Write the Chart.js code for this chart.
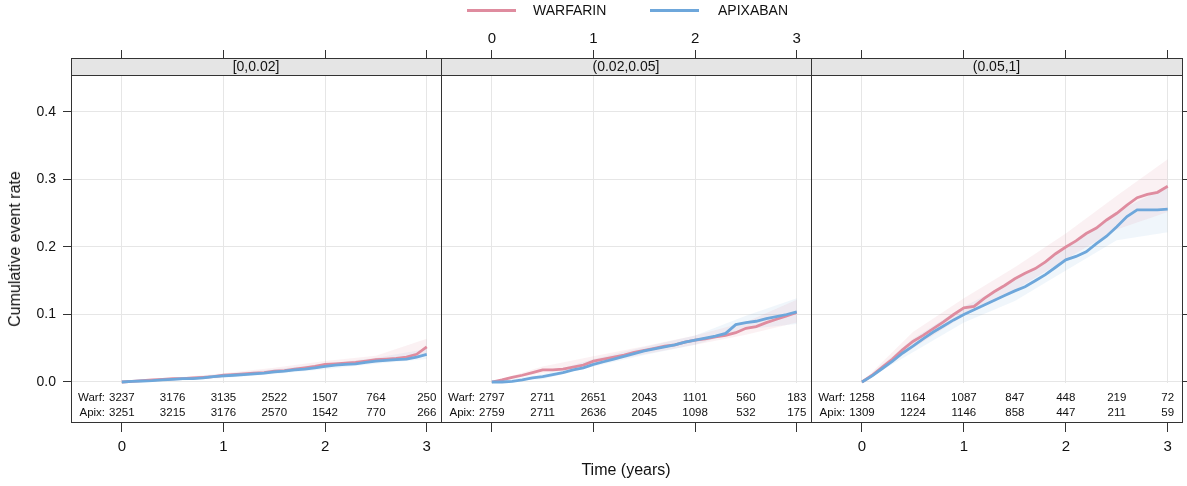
<!DOCTYPE html>
<html>
<head>
<meta charset="utf-8">
<script src="https://cdn.jsdelivr.net/npm/chart.js@4.4.1/dist/chart.umd.min.js"></script>
<style>
body{margin:0;background:#fff;font-family:"Liberation Sans",Arial,sans-serif;}
#wrap{position:relative;width:1187px;height:486px;overflow:hidden;}
canvas{position:absolute;left:0;top:0;}
.key{position:absolute;top:9px;width:49px;height:3px;}
.lab{position:absolute;top:2px;font-size:14px;line-height:16px;color:#111;}
#ytitle{position:absolute;left:15px;top:249px;transform:translate(-50%,-50%) rotate(-90deg);font-size:16px;white-space:nowrap;color:#111;}
#xtitle{position:absolute;left:626px;top:470px;transform:translate(-50%,-50%);font-size:16px;white-space:nowrap;color:#111;}
</style>
</head>
<body>
<div id="wrap">
<canvas id="p1" width="1187" height="486"></canvas>
<canvas id="p2" width="1187" height="486"></canvas>
<canvas id="p3" width="1187" height="486"></canvas>
<div class="key" style="left:467px;background:#DF8C9F"></div>
<div class="lab" style="left:533px">WARFARIN</div>
<div class="key" style="left:650px;background:#6EA7DB"></div>
<div class="lab" style="left:718px">APIXABAN</div>
<div id="ytitle">Cumulative event rate</div>
<div id="xtitle">Time (years)</div>
</div>
<script>
// data
const times=[0,0.1,0.2,0.3,0.4,0.5,0.6,0.7,0.8,0.9,1.0,1.1,1.2,1.3,1.4,1.5,1.6,1.7,1.8,1.9,2.0,2.1,2.2,2.3,2.4,2.5,2.6,2.7,2.8,2.9,3.0];

const warf1=[0,.001,.002,.003,.004,.005,.005,.006,.007,.008,.010,.011,.012,.013,.014,.016,.017,.019,.021,.023,.026,.027,.028,.029,.031,.033,.034,.035,.037,.041,.052];
const apix1=[0,.001,.0015,.002,.003,.004,.005,.005,.006,.008,.009,.010,.011,.012,.013,.015,.016,.018,.019,.021,.023,.025,.026,.027,.029,.031,.032,.033,.034,.037,.041];

const warf2=[0,.003,.007,.010,.014,.018,.018,.019,.022,.025,.031,.034,.037,.040,.044,.047,.050,.053,.055,.059,.062,.064,.067,.069,.073,.0795,.082,.088,.093,.098,.103];
const apix2=[0,0,.001,.003,.006,.008,.011,.014,.018,.021,.026,.030,.034,.038,.042,.046,.049,.052,.055,.059,.062,.065,.068,.072,.085,.088,.090,.094,.097,.100,.104];

const warf3=[0,.010,.022,.034,.048,.060,.069,.079,.089,.100,.110,.112,.124,.134,.143,.153,.161,.168,.178,.190,.200,.209,.220,.228,.240,.250,.262,.273,.278,.281,.290];
const apix3=[0,.009,.020,.031,.043,.053,.064,.074,.083,.092,.100,.107,.114,.121,.128,.135,.141,.150,.159,.170,.181,.186,.193,.205,.216,.230,.245,.255,.255,.255,.256];

// confidence bands
const bandTimes=[0,0.5,1,1.5,2,2.5,3];
const warf1Lo=[0,.002,.007,.013,.022,.029,.042];
const warf1Hi=[0,.006,.013,.021,.031,.039,.064];
const apix1Lo=[0,.0015,.006,.012,.019,.027,.034];
const apix1Hi=[0,.0045,.012,.019,.027,.036,.049];
const warf2Lo=[0,.013,.027,.041,.055,.070,.088];
const warf2Hi=[0,.023,.038,.053,.069,.089,.122];
const apix2Lo=[0,.004,.023,.040,.055,.078,.086];
const apix2Hi=[0,.012,.034,.052,.069,.098,.124];
const warf3Lo=[0,.050,.098,.136,.182,.226,.252];
const warf3Hi=[0,.074,.124,.170,.220,.276,.330];
const apix3Lo=[0,.044,.088,.120,.165,.210,.222];
const apix3Hi=[0,.064,.112,.150,.197,.252,.290];

// numbers at risk
const riskTimes=[0,0.5,1,1.5,2,2.5,3];
const riskWarf1=[3237,3176,3135,2522,1507,764,250];
const riskApix1=[3251,3215,3176,2570,1542,770,266];
const riskWarf2=[2797,2711,2651,2043,1101,560,183];
const riskApix2=[2759,2711,2636,2045,1098,532,175];
const riskWarf3=[1258,1164,1087,847,448,219,72];
const riskApix3=[1309,1224,1146,858,447,211,59];

const strips=["[0,0.02]","(0.02,0.05]","(0.05,1]"];
const xTicks=[0,1,2,3];
const yTicks=[0,0.1,0.2,0.3,0.4];

const PINK='#DF8C9F', BLUE='#6EA7DB';
const FONT='"Liberation Sans", Arial, sans-serif';
const panelLeft=[71,441,811], panelRight=[441,811,1182];

const pts=(xs,ys)=>xs.map((x,i)=>({x:x,y:ys[i]}));
const setTicks=list=>s=>{s.ticks=list.map(v=>({value:v}));};

const panelDeco={
  id:'panelDeco',
  beforeDatasetsDraw(chart){
    const a=chart.chartArea, y0=Math.round(chart.scales.y.getPixelForValue(0));
    const ctx=chart.ctx;
    ctx.save();
    ctx.fillStyle='#fff';
    ctx.fillRect(a.left+1,y0+1,a.right-a.left-1,a.bottom-y0-1);
    ctx.restore();
  },
  afterDraw(chart,args,o){
    const a=chart.chartArea, ctx=chart.ctx, xs=chart.scales.x;
    const L=Math.round(a.left), R=Math.round(a.right), T=Math.round(a.top), B=Math.round(a.bottom);
    ctx.save();
    // strip
    ctx.fillStyle='#e5e5e5';
    ctx.fillRect(L,T,R-L,17);
    ctx.strokeStyle='#333';ctx.lineWidth=1;
    ctx.beginPath();ctx.moveTo(L,T+17.5);ctx.lineTo(R,T+17.5);ctx.stroke();
    ctx.strokeRect(L+0.5,T+0.5,R-L,B-T);
    ctx.fillStyle='#111';ctx.font='14px '+FONT;ctx.textAlign='center';ctx.textBaseline='middle';
    ctx.fillText(o.strip,(L+R)/2,T+9);
    // numbers at risk
    ctx.font='11.5px '+FONT;
    const rows=[[o.warf,'Warf:',B-24],[o.apix,'Apix:',B-9.5]];
    rows.forEach(([vals,name,ry])=>{
      ctx.textAlign='center';
      riskTimes.forEach((t,i)=>ctx.fillText(String(vals[i]),xs.getPixelForValue(t),ry));
      ctx.textAlign='right';
      const w=ctx.measureText(String(vals[0])).width;
      ctx.fillText(name,xs.getPixelForValue(riskTimes[0])-w/2-4,ry);
    });
    ctx.restore();
  }
};

function makePanel(i,warf,apix,wLo,wHi,aLo,aHi,rW,rA){
  const first=i===0, mid=i===1, last=i===2;
  const scales={
    x:{type:'linear',position:'bottom',min:-0.5,max:3.14,
      afterBuildTicks:setTicks(xTicks),afterFit:s=>{s.height=64;},
      grid:{color:'#e6e6e6',tickColor:'#333',tickLength:10,drawTicks:true},
      border:{display:false},
      ticks:{display:!mid,color:'#111',font:{family:FONT,size:15},padding:6,maxRotation:0}},
    xt:{type:'linear',position:'top',min:-0.5,max:3.14,
      afterBuildTicks:setTicks(xTicks),afterFit:s=>{s.height=58;},
      grid:{drawOnChartArea:false,tickColor:'#333',tickLength:8},
      border:{display:false},
      ticks:{display:mid,color:'#111',font:{family:FONT,size:15},padding:2,maxRotation:0}},
    y:{type:'linear',position:'left',min:-0.05926,max:0.48,
      afterBuildTicks:setTicks(yTicks),afterFit:s=>{s.width=panelLeft[i];},
      grid:{color:'#e6e6e6',tickColor:'#333',tickLength:8,drawTicks:first},
      border:{display:false},
      ticks:{display:first,color:'#111',font:{family:FONT,size:14},padding:7,
        callback:v=>v.toFixed(1)}}
  };
  if(last){
    scales.y2={type:'linear',position:'right',min:-0.05926,max:0.48,
      afterBuildTicks:setTicks(yTicks),afterFit:s=>{s.width=1187-panelRight[i];},
      grid:{drawOnChartArea:false,tickColor:'#333',tickLength:8},
      border:{display:false},ticks:{display:false}};
  }
  const band=(d,c)=>({data:pts(bandTimes,d),borderWidth:0,pointRadius:0,fill:'-1',backgroundColor:c,order:5});
  const bandLo=d=>({data:pts(bandTimes,d),borderWidth:0,pointRadius:0,fill:false,order:5});
  new Chart(document.getElementById('p'+(i+1)),{
    type:'line',
    data:{datasets:[
      bandLo(wLo),band(wHi,'rgba(223,140,159,0.12)'),
      bandLo(aLo),band(aHi,'rgba(110,167,219,0.10)'),
      {label:'WARFARIN',data:pts(times,warf),borderColor:PINK,borderWidth:2.8,pointRadius:0,fill:false,order:2},
      {label:'APIXABAN',data:pts(times,apix),borderColor:BLUE,borderWidth:2.8,pointRadius:0,fill:false,order:1}
    ]},
    options:{
      responsive:false,animation:false,
      layout:{padding:{left:0,top:0,bottom:0,right:last?0:1187-panelRight[i]}},
      scales:scales,
      plugins:{legend:{display:false},tooltip:{enabled:false},
        panelDeco:{strip:strips[i],warf:rW,apix:rA}}
    },
    plugins:[panelDeco]
  });
}

makePanel(0,warf1,apix1,warf1Lo,warf1Hi,apix1Lo,apix1Hi,riskWarf1,riskApix1);
makePanel(1,warf2,apix2,warf2Lo,warf2Hi,apix2Lo,apix2Hi,riskWarf2,riskApix2);
makePanel(2,warf3,apix3,warf3Lo,warf3Hi,apix3Lo,apix3Hi,riskWarf3,riskApix3);
</script>
</body>
</html>
